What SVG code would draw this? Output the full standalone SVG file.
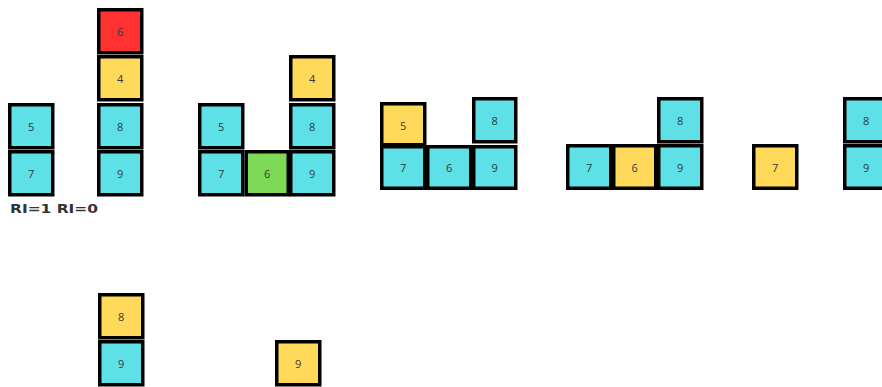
<svg xmlns="http://www.w3.org/2000/svg" width="882" height="387" viewBox="0 0 882 387">
<style>
.b{stroke:#000;stroke-width:3.5}
.c{fill:#5de0e6}.y{fill:#ffd95a}.r{fill:#ff3131}.g{fill:#7ed957}
text{font-family:"Open Sans","DejaVu Sans",sans-serif;font-size:11px;fill:#2e3b40;text-anchor:middle;dominant-baseline:central}
.lbl{font-family:"DejaVu Sans",sans-serif;font-weight:bold;font-size:12px;fill:#333;text-anchor:start;dominant-baseline:auto}
</style>
<rect width="882" height="387" fill="#fff"/>
<g id="s1">
<g id="s1-5"><rect class="b c" x="9.75" y="104.75" width="43" height="43"/><text x="31.25" y="126.25">5</text></g>
<g id="s1-7"><rect class="b c" x="9.75" y="151.75" width="43" height="43"/><text x="31.25" y="173.25">7</text></g>
<g id="s1-6"><rect class="b r" x="98.75" y="9.75" width="43" height="43"/><text x="120.25" y="31.25">6</text></g>
<g id="s1-4"><rect class="b y" x="98.75" y="56.75" width="43" height="43"/><text x="120.25" y="78.25">4</text></g>
<g id="s1-8"><rect class="b c" x="98.75" y="104.75" width="43" height="43"/><text x="120.25" y="126.25">8</text></g>
<g id="s1-9"><rect class="b c" x="98.75" y="151.75" width="43" height="43"/><text x="120.25" y="173.25">9</text></g>
<text class="lbl" x="10" y="213" textLength="88" lengthAdjust="spacingAndGlyphs">RI=1 RI=0</text>
</g>
<g id="s2">
<g id="s2-5"><rect class="b c" x="199.75" y="104.75" width="43" height="43"/><text x="221.25" y="126.25">5</text></g>
<g id="s2-7"><rect class="b c" x="199.75" y="151.75" width="43" height="43"/><text x="221.25" y="173.25">7</text></g>
<g id="s2-6"><rect class="b g" x="246.25" y="151.75" width="42" height="43"/><text x="267.25" y="173.25">6</text></g>
<g id="s2-4"><rect class="b y" x="290.75" y="56.75" width="43" height="43"/><text x="312.25" y="78.25">4</text></g>
<g id="s2-8"><rect class="b c" x="290.75" y="104.75" width="43" height="43"/><text x="312.25" y="126.25">8</text></g>
<g id="s2-9"><rect class="b c" x="290.75" y="151.75" width="43" height="43"/><text x="312.25" y="173.25">9</text></g>
</g>
<g id="s3">
<g id="s3-5"><rect class="b y" x="381.75" y="103.75" width="43" height="41"/><text x="403.25" y="125.25">5</text></g>
<g id="s3-7"><rect class="b c" x="381.75" y="146.75" width="43" height="41.5"/><text x="403.25" y="167.5">7</text></g>
<g id="s3-6"><rect class="b c" x="427.75" y="146.75" width="43" height="41.5"/><text x="449.25" y="167.5">6</text></g>
<g id="s3-8"><rect class="b c" x="473.75" y="98.75" width="42" height="43"/><text x="494.75" y="120.25">8</text></g>
<g id="s3-9"><rect class="b c" x="473.75" y="146.75" width="42" height="41.5"/><text x="494.75" y="167.5">9</text></g>
</g>
<g id="s4">
<g id="s4-7"><rect class="b c" x="567.75" y="145.75" width="43" height="42.5"/><text x="589.25" y="167">7</text></g>
<g id="s4-6"><rect class="b y" x="613.75" y="145.75" width="42" height="42.5"/><text x="634.75" y="167">6</text></g>
<g id="s4-8"><rect class="b c" x="658.75" y="98.75" width="43" height="43"/><text x="680.25" y="120.25">8</text></g>
<g id="s4-9"><rect class="b c" x="658.75" y="145.75" width="43" height="42.5"/><text x="680.25" y="167">9</text></g>
</g>
<g id="s5">
<g id="s5-7"><rect class="b y" x="753.75" y="145.75" width="43" height="42.5"/><text x="775.25" y="167">7</text></g>
<g id="s5-8"><rect class="b c" x="844.75" y="98.75" width="43" height="43"/><text x="866.25" y="120.25">8</text></g>
<g id="s5-9"><rect class="b c" x="844.75" y="145.75" width="43" height="42.5"/><text x="866.25" y="167">9</text></g>
</g>
<g id="s6">
<g id="s6-8"><rect class="b y" x="99.75" y="294.75" width="43" height="43"/><text x="121.25" y="316.25">8</text></g>
<g id="s6-9"><rect class="b c" x="99.75" y="341.75" width="43" height="43"/><text x="121.25" y="363.25">9</text></g>
</g>
<g id="s7">
<g id="s7-9"><rect class="b y" x="276.75" y="341.75" width="43" height="43"/><text x="298.25" y="363.25">9</text></g>
</g>
</svg>
